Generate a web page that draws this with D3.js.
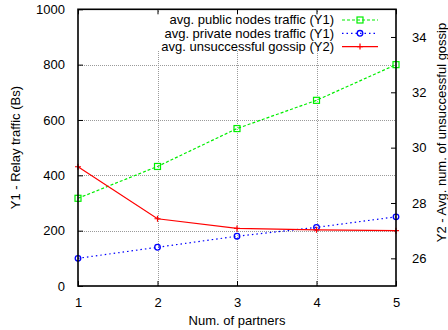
<!DOCTYPE html>
<html>
<head>
<meta charset="utf-8">
<script src="https://cdn.jsdelivr.net/npm/d3@7"></script>
<style>
  html, body { margin: 0; padding: 0; background: #fff; }
  svg { display: block; font-family: "Liberation Sans", Arial, sans-serif; }
</style>
</head>
<body>
<svg id="chart" width="448" height="330"></svg>
<script>
// Number of gossip partners
const partners = [1, 2, 3, 4, 5];
// Relay traffic (Bs), left axis
const publicTraffic = [317, 432, 569, 671, 800];
const privateTraffic = [100, 140, 180, 212, 250];
// Average number of unsuccessful gossip rounds, right axis
const unsuccessfulGossip = [29.31, 27.43, 27.08, 27.03, 27.0];

const y1Ticks = [0, 200, 400, 600, 800, 1000];
const y2Ticks = [26, 28, 30, 32, 34];
const xTicks = [1, 2, 3, 4, 5];

const seriesNames = [
  "avg. public nodes traffic (Y1)",
  "avg. private nodes traffic (Y1)",
  "avg. unsuccessful gossip (Y2)"
];

const svg = d3.select("#chart");
const L = 78, R = 396, T = 9.3, B = 286;

const x = d3.scaleLinear().domain([1, 5]).range([L, R]);
const y1 = d3.scaleLinear().domain([0, 1000]).range([B, T]);
const y2 = d3.scaleLinear().domain([25, 35]).range([B, T]);

// grid
const grid = svg.append("g").attr("stroke", "#9a9a9a").attr("stroke-width", 1)
  .attr("stroke-dasharray", "1,1").attr("shape-rendering", "crispEdges");
xTicks.slice(1, -1).forEach(v => {
  grid.append("line").attr("x1", Math.round(x(v)) + 0.5).attr("x2", Math.round(x(v)) + 0.5)
    .attr("y1", T).attr("y2", B);
});
y1Ticks.slice(1, -1).forEach(v => {
  grid.append("line").attr("y1", Math.round(y1(v)) + 0.5).attr("y2", Math.round(y1(v)) + 0.5)
    .attr("x1", L).attr("x2", R);
});

// series
const series = [
  { name: seriesNames[0], values: publicTraffic, scale: y1, color: "#00ee00", dash: "3,2", marker: "square" },
  { name: seriesNames[1], values: privateTraffic, scale: y1, color: "#0000ff", dash: "1.5,3", marker: "circle" },
  { name: seriesNames[2], values: unsuccessfulGossip, scale: y2, color: "#ff0000", dash: null, marker: "plus" }
];

function drawMarker(g, kind, cx, cy, color) {
  if (kind === "square") {
    g.append("rect").attr("x", cx - 3).attr("y", cy - 3).attr("width", 6).attr("height", 6)
      .attr("fill", "none").attr("stroke", color).attr("stroke-width", 1.2);
  } else if (kind === "circle") {
    g.append("circle").attr("cx", cx).attr("cy", cy).attr("r", 2.8)
      .attr("fill", "none").attr("stroke", color).attr("stroke-width", 1.3);
  } else {
    g.append("path").attr("d", `M${cx - 3},${cy}H${cx + 3}M${cx},${cy - 3}V${cy + 3}`)
      .attr("stroke", color).attr("stroke-width", 1.2);
  }
}

series.forEach(s => {
  const line = d3.line().x((d, i) => x(partners[i])).y(d => s.scale(d));
  svg.append("path").datum(s.values).attr("d", line)
    .attr("fill", "none").attr("stroke", s.color).attr("stroke-width", 1.2)
    .attr("stroke-dasharray", s.dash);
  const g = svg.append("g");
  s.values.forEach((v, i) => drawMarker(g, s.marker, x(partners[i]), s.scale(v), s.color));
});

// legend (opaque key)
svg.append("rect").attr("x", 154).attr("y", 13).attr("width", 232).attr("height", 38).attr("fill", "#fff");
const legend = svg.append("g");
series.forEach((s, i) => {
  const cy = 20 + i * 13.3;
  legend.append("text").attr("x", 334).attr("y", cy + 4.3).attr("text-anchor", "end")
    .attr("font-size", 13).attr("fill", "#000").text(s.name);
  legend.append("line").attr("x1", 342).attr("x2", 378).attr("y1", cy).attr("y2", cy)
    .attr("stroke", s.color).attr("stroke-width", 1.2).attr("stroke-dasharray", s.dash);
  drawMarker(legend, s.marker, 360, cy, s.color);
});

// axes: inward ticks, border frame
const axisFont = g => g.selectAll("text").attr("font-size", 13).attr("fill", "#000")
  .attr("font-family", "'Liberation Sans', Arial, sans-serif");

const xAxis = svg.append("g").attr("transform", `translate(0,${B})`)
  .call(d3.axisBottom(x).tickValues(xTicks).tickFormat(d3.format("d")).tickSizeInner(-5).tickSizeOuter(0).tickPadding(12));
xAxis.call(axisFont);
const xTop = svg.append("g").attr("transform", `translate(0,${T})`)
  .call(d3.axisTop(x).tickValues(xTicks).tickFormat("").tickSizeInner(-5).tickSizeOuter(0));
const yAxis = svg.append("g").attr("transform", `translate(${L},0)`)
  .call(d3.axisLeft(y1).tickValues(y1Ticks).tickFormat(d3.format("d")).tickSizeInner(-5).tickSizeOuter(0).tickPadding(13));
yAxis.call(axisFont);
const y2Axis = svg.append("g").attr("transform", `translate(${R},0)`)
  .call(d3.axisRight(y2).tickValues(y2Ticks).tickFormat(d3.format("d")).tickSizeInner(-5).tickSizeOuter(0).tickPadding(16));
y2Axis.call(axisFont);

[xAxis, xTop, yAxis, y2Axis].forEach(a => {
  a.select(".domain").remove();
  a.selectAll(".tick line").attr("stroke", "#000").attr("stroke-width", 1);
});

svg.append("rect").attr("x", L).attr("y", T).attr("width", R - L).attr("height", B - T)
  .attr("fill", "none").attr("stroke", "#000").attr("stroke-width", 1.6);

// axis titles
svg.append("text").attr("x", (L + R) / 2).attr("y", 325).attr("text-anchor", "middle")
  .attr("font-size", 13).text("Num. of partners");
svg.append("text").attr("transform", `translate(20,${(T + B) / 2}) rotate(-90)`)
  .attr("text-anchor", "middle").attr("font-size", 13).text("Y1 - Relay traffic (Bs)");
svg.append("text").attr("transform", `translate(445.5,132.5) rotate(-90)`)
  .attr("text-anchor", "middle").attr("font-size", 13).text("Y2 - Avg. num. of unsuccessful gossip");
</script>
</body>
</html>
